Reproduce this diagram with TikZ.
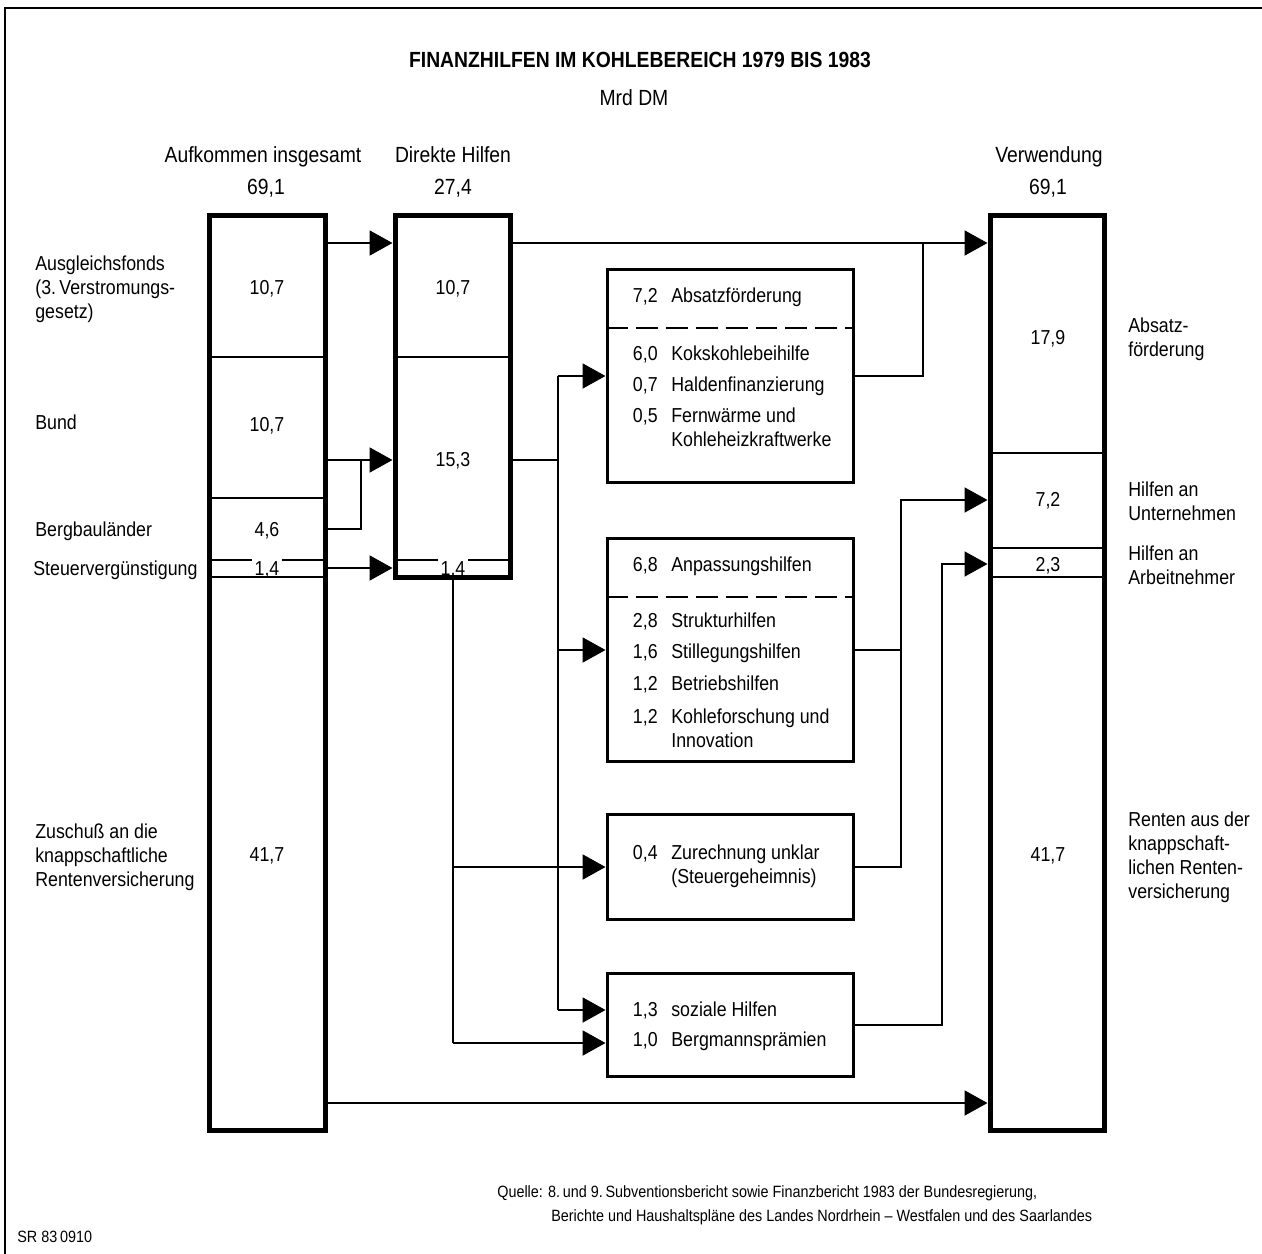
\documentclass[tikz,border=0pt]{standalone}
\usepackage{fontspec}
\setmainfont{Liberation Sans}[FakeStretch=0.88]
\usetikzlibrary{arrows.meta,positioning}
\newcommand{\ttlfont}{\bfseries\fontsize{12.5}{15}\selectfont}
\newcommand{\hdfont}{\fontsize{12.5}{15}\selectfont}
\newcommand{\txtfont}{\fontsize{11.5}{13.7}\selectfont}
\newcommand{\srcfont}{\fontsize{9.3}{11.5}\selectfont}

\tikzset{
  barcol/.style={draw, line width=0.1cm, inner sep=0pt},
  division/.style={line width=0.05cm},
  hbox/.style={draw, line width=0.06cm, inner sep=0pt, minimum width=4.94cm},
  splitline/.style={line width=0.05cm, dash pattern=on 0.44cm off 0.16cm},
  linkline/.style={line width=0.04cm},
  flowline/.style={linkline, -{Triangle[length=0.46cm,width=0.5cm]}},
  hdtext/.style={inner sep=0pt, font=\hdfont, text height=9pt, text depth=0.5pt},
  lbl/.style={inner sep=0pt, font=\txtfont, text height=8.4pt, text depth=0.6pt},
  numtext/.style={lbl, anchor=east},
  itemtext/.style={lbl, anchor=west},
  multitext/.style={inner sep=0pt, font=\txtfont, align=left, anchor=west},
  striptext/.style={fill=white, inner xsep=1.5pt, inner ysep=0pt, font=\txtfont, text height=10pt, text depth=0pt, anchor=base},
  srctext/.style={inner sep=0pt, font=\srcfont, anchor=west},
}

\begin{document}
\begin{tikzpicture}[x=0.02cm, y=-0.02cm]
\useasboundingbox (0,0) rectangle (1262,1254);
\draw[line width=0.04cm] (5,1254) -- (5,8) -- (1262,8);

% title
\node[font=\ttlfont, inner sep=0pt] (title) at (640,60) {FINANZHILFEN IM KOHLEBEREICH 1979 BIS 1983};
\node[hdtext] (unit) at (634,98) {Mrd DM};

% column heads
\node[hdtext] (hAufk) at (263,155) {Aufkommen insgesamt};
\node[hdtext] (sAufk) at (266,187) {69,1};
\node[hdtext] (hDir) at (453,155) {Direkte Hilfen};
\node[hdtext] (sDir) at (453,187) {27,4};
\node[hdtext] (hVerw) at (1049,155) {Verwendung};
\node[hdtext] (sVerw) at (1048,187) {69,1};

% columns
\node[barcol, minimum width=2.34cm, minimum height=18.32cm] (aufk) at (267.5,673) {};
\node[barcol, minimum width=2.32cm, minimum height=7.26cm] (direkt) at (453,396.5) {};
\node[barcol, minimum width=2.30cm, minimum height=18.32cm] (verw) at (1047.5,673) {};
\foreach \y in {357,498,560,577}
  \draw[division] (aufk.west |- 0,\y) -- (aufk.east |- 0,\y);
\foreach \y in {357,560}
  \draw[division] (direkt.west |- 0,\y) -- (direkt.east |- 0,\y);
\foreach \y in {453,548,577}
  \draw[division] (verw.west |- 0,\y) -- (verw.east |- 0,\y);

% column values
\node[lbl] (aA) at (267,288) {10,7};
\node[lbl] (aB) at (267,425) {10,7};
\node[lbl] (aC) at (267,530) {4,6};
\node[striptext] (aD) at (267,575) {1,4};
\node[lbl] (aE) at (267,855) {41,7};
\node[lbl] (dA) at (453,288) {10,7};
\node[lbl] (dB) at (453,460) {15,3};
\node[striptext] (dD) at (453,575) {1,4};
\node[lbl] (vA) at (1048,338) {17,9};
\node[lbl] (vB) at (1048,500) {7,2};
\node[lbl] (vC) at (1048,565) {2,3};
\node[lbl] (vD) at (1048,855) {41,7};

% left labels
\node[multitext] (lAusg) at (35,289) {Ausgleichsfonds\\(3.\,Verstromungs-\\gesetz)};
\node[itemtext] (lBund) at (35,423) {Bund};
\node[itemtext] (lBerg) at (35,530) {Bergbauländer};
\node[itemtext] (lSteuer) at (33,569) {Steuervergünstigung};
\node[multitext] (lZusch) at (35,857) {Zuschuß an die\\knappschaftliche\\Rentenversicherung};

% right labels
\node[multitext] (rAbs) at (1128,339) {Absatz-\\förderung};
\node[multitext] (rUnt) at (1128,501) {Hilfen an\\Unternehmen};
\node[multitext] (rArb) at (1128,565) {Hilfen an\\Arbeitnehmer};
\node[multitext] (rRent) at (1128,857) {Renten aus der\\knappschaft-\\lichen Renten-\\versicherung};

% middle boxes
\node[hbox, minimum height=4.28cm] (absatz) at (730.5,376) {};
\node[hbox, minimum height=4.48cm] (anpass) at (730.5,650) {};
\node[hbox, minimum height=2.12cm] (unklar) at (730.5,867) {};
\node[hbox, minimum height=2.08cm] (sozial) at (730.5,1025) {};
\draw[splitline] (absatz.west |- 0,328) -- (absatz.east |- 0,328);
\draw[splitline] (anpass.west |- 0,597) -- (anpass.east |- 0,597);
\foreach \v/\t/\y [count=\i] in {
    {7,2}/Absatzförderung/296, {6,0}/Kokskohlebeihilfe/354,
    {0,7}/Haldenfinanzierung/385, {0,5}/Fernwärme und/416,
    {}/Kohleheizkraftwerke/440, {6,8}/Anpassungshilfen/565,
    {2,8}/Strukturhilfen/621, {1,6}/Stillegungshilfen/652,
    {1,2}/Betriebshilfen/684, {1,2}/Kohleforschung und/717,
    {}/Innovation/741, {0,4}/Zurechnung unklar/853,
    {}/(Steuergeheimnis)/877, {1,3}/soziale Hilfen/1010,
    {1,0}/Bergmannsprämien/1040} {
  \node[numtext] (v\i) at (658,\y) {\v};
  \node[itemtext] (t\i) at (671,\y) {\t};
}

% junctions
\coordinate (yA) at (0,243);
\coordinate (yB) at (0,460);
\coordinate (yC) at (0,529);
\coordinate (yD) at (0,568);
\coordinate (yE) at (0,1103);
\coordinate (yF) at (0,500);
\coordinate (yG) at (0,564);
\coordinate (ySoz) at (0,1010);
\coordinate (yBerg) at (0,1043);
\coordinate (xL) at (361,0);
\coordinate (xM) at (558,0);
\coordinate (xR1) at (923,0);
\coordinate (xR2) at (901,0);
\coordinate (xR3) at (942,0);

% connectors
\draw[flowline] (aufk.east |- yA) -- (direkt.west |- yA);
\draw[flowline] (aufk.east |- yB) -- (direkt.west |- yB);
\draw[linkline] (aufk.east |- yC) -| (xL |- yB);
\draw[flowline] (aufk.east |- yD) -- (direkt.west |- yD);
\draw[flowline] (aufk.east |- yE) -- (verw.west |- yE);
\draw[flowline] (direkt.east |- yA) -- (verw.west |- yA);
\draw[linkline] (absatz.east) -| (xR1 |- yA);
\draw[linkline] (direkt.east |- yB) -- (xM |- yB);
\draw[linkline] (xM |- absatz.west) -- (xM |- ySoz);
\draw[flowline] (xM |- absatz.west) -- (absatz.west);
\draw[flowline] (xM |- anpass.west) -- (anpass.west);
\draw[flowline] (xM |- ySoz) -- (sozial.west |- ySoz);
\draw[linkline] (direkt.south) -- (direkt.south |- yBerg);
\draw[flowline] (direkt.south |- unklar.west) -- (unklar.west);
\draw[flowline] (direkt.south |- yBerg) -- (sozial.west |- yBerg);
\draw[linkline] (anpass.east) -- (xR2 |- anpass.east);
\draw[flowline] (unklar.east) -| (xR2 |- yF) -- (verw.west |- yF);
\draw[flowline] (sozial.east) -| (xR3 |- yG) -- (verw.west |- yG);

% source
\node[srctext] (src1) at (497,1193) {Quelle: 8.\,und 9.\,Subventionsbericht sowie Finanzbericht 1983 der Bundesregierung,};
\node[srctext] (src2) at (551,1217) {Berichte und Haushaltspläne des Landes Nordrhein – Westfalen und des Saarlandes};
\node[srctext] (srcid) at (17,1237) {SR 83\,0910};
\end{tikzpicture}
\end{document}
